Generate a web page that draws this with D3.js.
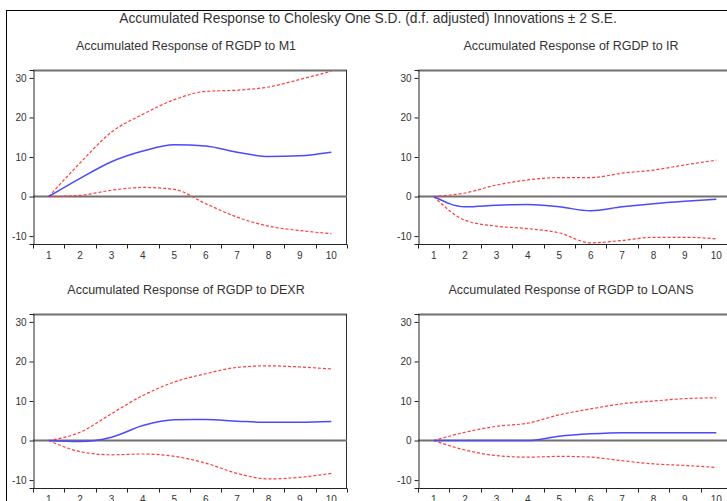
<html><head>
  <meta charset="utf-8">
  <script src="https://d3js.org/d3.v7.min.js"></script>
  <style>
    body { margin:0; background:white; }
    text { font-family: "Liberation Sans", Arial, sans-serif; fill:#333; }
  </style>
</head>
<body>
  <svg id="irf" width=727 height=501></svg>
  <script>
    // periods after the shock
    const steps = [1,2,3,4,5,6,7,8,9,10];
    const yTicks = [30,20,10,0,-10];

    const mainTitle = "Accumulated Response to Cholesky One S.D. (d.f. adjusted) Innovations \u00b1 2 S.E.";
    const panelTitles = ["Accumulated Response of RGDP to M1",
                         "Accumulated Response of RGDP to IR",
                         "Accumulated Response of RGDP to DEXR",
                         "Accumulated Response of RGDP to LOANS"];

    // response, upper band (+2 SE), lower band (-2 SE)
    const m1Resp  = [0, 4.6, 8.8, 11.5, 13.1, 12.8, 11.2, 10.1, 10.3, 11.2];
    const m1Up    = [0, 8.5, 16.3, 20.8, 24.5, 26.6, 26.9, 27.7, 29.6, 31.7];
    const m1Lo    = [0, 0.3, 1.6, 2.3, 1.8, -1.8, -5.2, -7.5, -8.6, -9.4];

    const irResp  = [0, -2.6, -2.2, -2.0, -2.6, -3.6, -2.6, -1.8, -1.2, -0.7];
    const irUp    = [0, 0.9, 2.9, 4.2, 4.8, 4.8, 5.9, 6.7, 8.0, 9.2];
    const irLo    = [0, -6.0, -7.5, -8.1, -9.2, -11.7, -11.1, -10.3, -10.3, -10.7];

    const dexrResp = [0, -0.25, 0.85, 3.8, 5.25, 5.3, 4.9, 4.6, 4.6, 4.8];
    const dexrUp   = [0, 2.1, 6.8, 11.4, 14.8, 16.9, 18.5, 18.9, 18.6, 18.1];
    const dexrLo   = [0, -2.8, -3.6, -3.4, -4.0, -5.7, -8.3, -9.7, -9.3, -8.3];

    const loansResp = [0, 0, 0, 0, 1.1, 1.7, 2.0, 2.0, 2.0, 2.0];
    const loansUp   = [0, 2.1, 3.6, 4.4, 6.5, 8.0, 9.3, 10.0, 10.6, 10.8];
    const loansLo   = [0, -2.4, -3.8, -4.2, -4.0, -4.2, -5.1, -5.9, -6.3, -6.8];

    const panels = [
      {title: panelTitles[0], resp: m1Resp, up: m1Up, lo: m1Lo, x: 33, y: 70},
      {title: panelTitles[1], resp: irResp, up: irUp, lo: irLo, x: 418, y: 70},
      {title: panelTitles[2], resp: dexrResp, up: dexrUp, lo: dexrLo, x: 33, y: 314},
      {title: panelTitles[3], resp: loansResp, up: loansUp, lo: loansLo, x: 418, y: 314}
    ];

    let svg = d3.select("svg#irf");
    const pw = 314, ph = 174;

    // outer frame (only left and top are inside the picture)
    svg.append("line").attr("x1",6.5).attr("x2",6.5).attr("y1",10).attr("y2",501)
       .style("stroke","black").style("stroke-width",1);
    svg.append("line").attr("x1",6).attr("x2",727).attr("y1",10.5).attr("y2",10.5)
       .style("stroke","black").style("stroke-width",1);

    svg.append("text")
       .text(mainTitle)
       .attr("x",368).attr("y",23)
       .style("font-size","13.8px")
       .style("text-anchor","middle");

    panels.forEach((p,i) => {
      let g = svg.append("g").attr("transform","translate(" + p.x + "," + p.y + ")");

      let x = d3.scaleBand().domain(steps).range([0,pw]).padding(0);
      let y = d3.scaleLinear().domain([-12,32]).range([ph,0]);

      g.append("text")
       .text(p.title)
       .attr("x",pw/2 - 4).attr("y",-20)
       .style("font-size","12.5px")
       .style("text-anchor","middle");

      // box
      g.append("line").attr("x1",0).attr("x2",pw).attr("y1",0.5).attr("y2",0.5)
       .style("stroke","#707070").style("stroke-width",2);
      g.append("line").attr("x1",pw - 0.5).attr("x2",pw - 0.5).attr("y1",0).attr("y2",ph)
       .style("stroke","#333").style("stroke-width",1);

      // zero line
      g.append("line").attr("x1",0).attr("x2",pw).attr("y1",y(0)).attr("y2",y(0))
       .style("stroke","#707070").style("stroke-width",2);

      // y axis
      let yAxis = d3.axisLeft(y).tickValues(yTicks).tickSize(4).tickPadding(3)
                    .tickFormat(d => String(d));
      let ya = g.append("g").attr("transform","translate(0.5,0)").call(yAxis);
      ya.select(".domain").attr("stroke","#222");
      ya.selectAll(".tick line").attr("stroke","#222");
      ya.selectAll("text").style("font-size","10px").style("font-family","Liberation Sans, Arial").attr("fill","#333");

      // x axis: ticks sit on the band edges, labels in the middle
      let xa = g.append("g").attr("transform","translate(0," + (ph + 0.5) + ")");
      xa.append("line").attr("x1",0).attr("x2",pw).style("stroke","#222").style("stroke-width",1);
      let edges = steps.map(s => x(s)).concat([pw]);
      edges.forEach(e => {
        xa.append("line").attr("x1",Math.round(e) + 0.5).attr("x2",Math.round(e) + 0.5)
          .attr("y1",0).attr("y2",4).style("stroke","#222");
      });
      steps.forEach(s => {
        xa.append("text").text(s)
          .attr("x",x(s) + x.bandwidth()/2).attr("y",14)
          .style("font-size","10px")
          .style("text-anchor","middle");
      });

      let line = d3.line()
                   .x((d,j) => x(steps[j]) + x.bandwidth()/2)
                   .y(d => y(d))
                   .curve(d3.curveMonotoneX);

      [p.up, p.lo].forEach(s => {
        g.append("path").attr("d",line(s))
         .style("fill","none").style("stroke","#ff3b3b")
         .style("stroke-width",1.2).style("stroke-dasharray","3,2");
      });
      g.append("path").attr("d",line(p.resp))
       .style("fill","none").style("stroke","#4a4aff").style("stroke-width",1.5);
    });
  </script>
</body>
</html>
